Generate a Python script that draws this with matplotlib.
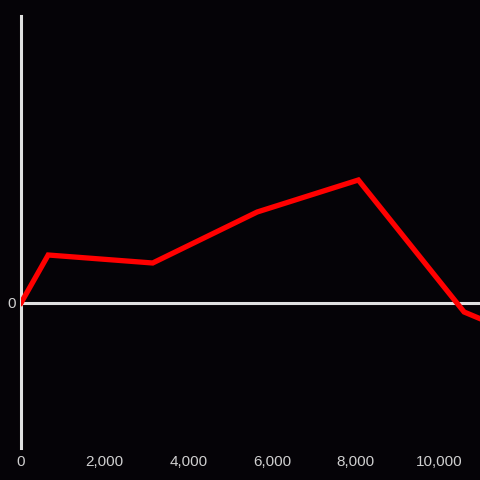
import matplotlib.pyplot as plt

# Data (x in units, y in relative units)
x_vals = [0, 650, 3150, 5650, 8070, 10600, 11000]
y_vals = [0, 48, 40, 91, 123, -9, -16]
x_ticks = [0, 2000, 4000, 6000, 8000, 10000]

bg = '#050307'
axis_col = '#e0e0e0'
label_col = '#cfcfcf'

plt.rcParams['font.family'] = ['Liberation Sans', 'DejaVu Sans']

fig = plt.figure(figsize=(4.8, 4.8), dpi=100, facecolor=bg)
ax = fig.add_axes([21 / 480, 32 / 480, 459 / 480, 432 / 480])
ax.set_facecolor(bg)

ax.plot(x_vals, y_vals, color='#ff0000', linewidth=3.8, solid_joinstyle='miter', zorder=3)
ax.axhline(0, color=axis_col, linewidth=2.2, zorder=2)

ax.set_xlim(0, 10980)
ax.set_ylim(-145, 287)

for side in ['top', 'right', 'bottom']:
    ax.spines[side].set_visible(False)
ax.spines['left'].set_color(axis_col)
ax.spines['left'].set_linewidth(2.2)

ax.set_xticks(x_ticks)
ax.set_xticklabels([f'{v:,}' for v in x_ticks])
ax.set_yticks([0])
ax.set_yticklabels(['0'])
ax.tick_params(axis='x', length=0, pad=5, labelsize=11, labelcolor=label_col)
ax.tick_params(axis='y', length=0, pad=3.5, labelsize=11, labelcolor=label_col)

fig.savefig('out.png', dpi=100, facecolor=bg)
